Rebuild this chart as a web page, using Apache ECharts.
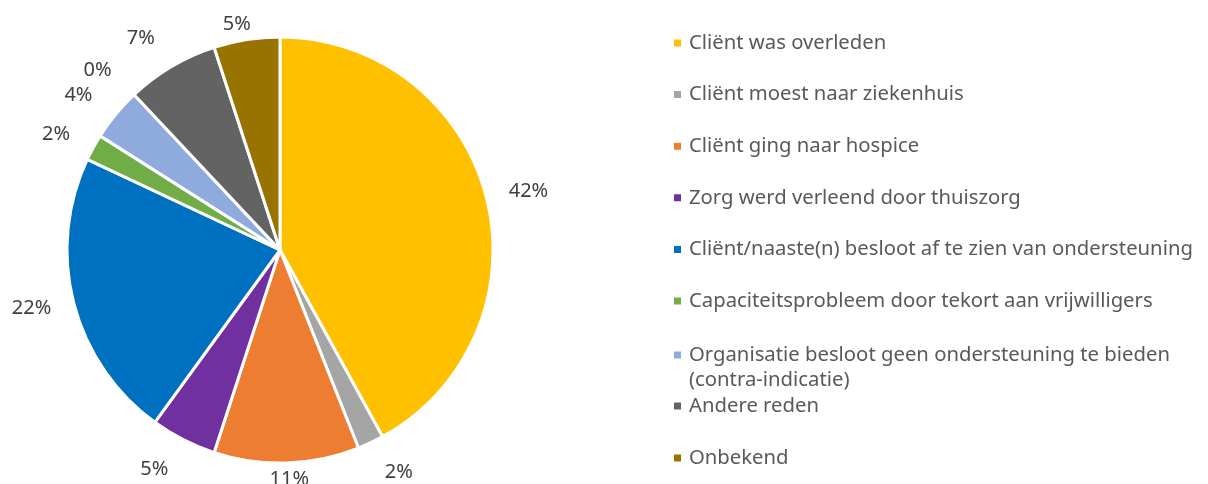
<!DOCTYPE html>
<html>
<head>
<meta charset="utf-8">
<script src="https://cdn.jsdelivr.net/npm/echarts@6/dist/echarts.min.js"></script>
<style>html,body{margin:0;padding:0;background:#fff;}#c{width:1208px;height:484px;}</style>
</head>
<body>
<div id="c"></div>
<script>
const categories = [
  'Cliënt was overleden',
  'Cliënt moest naar ziekenhuis',
  'Cliënt ging naar hospice',
  'Zorg werd verleend door thuiszorg',
  'Cliënt/naaste(n) besloot af te zien van ondersteuning',
  'Capaciteitsprobleem door tekort aan vrijwilligers',
  'Organisatie besloot geen ondersteuning te bieden (contra-indicatie)',
  'Overig',
  'Andere reden',
  'Onbekend'
];
const values = [42, 2, 11, 5, 22, 2, 4, 0, 7, 5];
const colors = ['#FFC000', '#A5A5A5', '#ED7D31', '#7030A0', '#0070C0', '#70AD47', '#8FAADC', '#BFBFBF', '#636363', '#997300'];
const legendA = categories.slice(0, 6);
const legendB = [categories[6]];
const legendC = [categories[8], categories[9]];

const FONT = 'Noto Sans';
const CX = 280, CY = 250, R = 213;
const legendText = { color: '#595959', fontSize: 20.3, fontFamily: FONT, lineHeight: 25, padding: [0, 0, 0, 2] };
const richT = { color: '#595959', fontSize: 20.3, fontFamily: FONT, lineHeight: 25 };

const data = categories.map((n, i) => ({ name: n, value: values[i], itemStyle: { color: colors[i] } }));

const chart = echarts.init(document.getElementById('c'));
const commonLegend = {
  orient: 'vertical', left: 672, padding: 0, icon: 'rect', itemWidth: 9, itemHeight: 9,
  textStyle: legendText, selectedMode: false
};
function clamp(v, a, b) { return Math.min(b, Math.max(a, v)); }
chart.setOption({
  animation: false,
  legend: [
    Object.assign({}, commonLegend, { data: legendA, top: 30.5, itemGap: 26.6 }),
    Object.assign({}, commonLegend, {
      data: legendB, top: 317.5, itemGap: 27,
      formatter: function () {
        return '{s| }\n{t|Organisatie besloot geen ondersteuning te bieden}\n{t|(contra-indicatie)}';
      },
      textStyle: Object.assign({}, legendText, { rich: { s: richT, t: richT } })
    }),
    Object.assign({}, commonLegend, { data: legendC, top: 393.5, itemGap: 27 })
  ],
  series: [
    {
      type: 'pie',
      center: [CX, CY],
      radius: R,
      startAngle: 90,
      clockwise: true,
      avoidLabelOverlap: false,
      percentPrecision: 0,
      label: {
        show: true, position: 'inside', rotate: 0, formatter: '{d}%',
        color: '#404040', fontSize: 20, fontFamily: FONT
      },
      labelLine: { show: false },
      labelLayout: function (p) {
        const r = p.labelRect;
        const lx = r.x + r.width / 2, ly = r.y + r.height / 2;
        let ux = lx - CX, uy = ly - CY;
        const len = Math.hypot(ux, uy) || 1;
        ux /= len; uy /= len;
        const ax = Math.abs(ux);
        const ramp = clamp((ax - 0.17) / 0.23, 0, 1);
        const d = 229 + 17 * ramp - 11 * Math.max(0, (ax - 0.7) / 0.3);
        const extra = Math.sign(ux) * (r.width / 2) * Math.min(1, ax / 0.3);
        return { dx: CX + d * ux + extra - lx, dy: CY + d * uy - ly };
      },
      itemStyle: { borderColor: '#fff', borderWidth: 3 },
      emphasis: { disabled: true },
      data: data
    }
  ]
});
</script>
</body>
</html>
